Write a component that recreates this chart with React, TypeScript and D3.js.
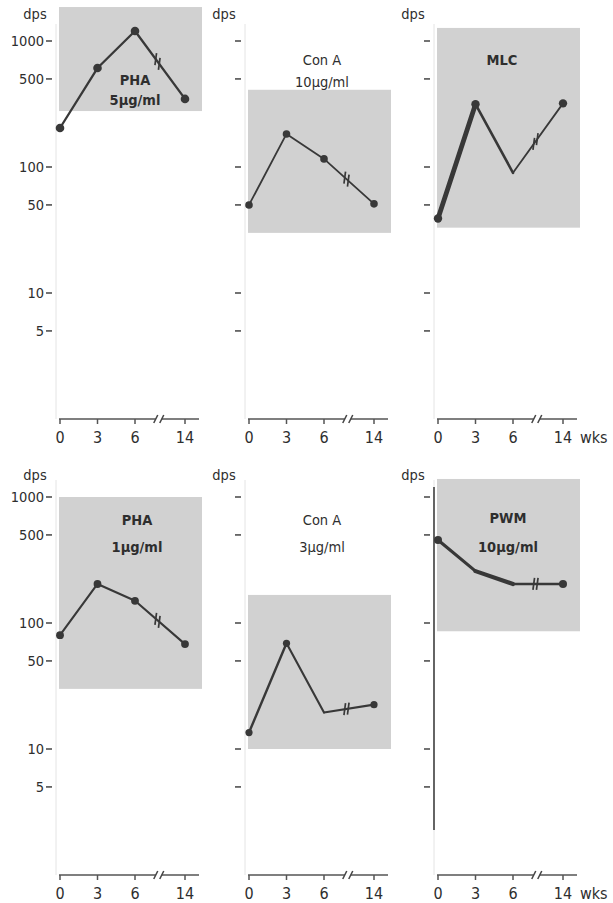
import React from "react";
import * as d3 from "d3";

// ---- data ----
const weeks = [0, 3, 6, 14];
const xTickLabels = ["0", "3", "6", "14"];
const yTickValues = [1000, 500, 100, 50, 10, 5];
const yTickLabels = ["1000", "500", "100", "50", "10", "5"];
const panelTitles = ["PHA", "Con A", "MLC", "PHA", "Con A", "PWM"];
const panelDoses = ["5μg/ml", "10μg/ml", "", "1μg/ml", "3μg/ml", "10μg/ml"];
const phaHigh = [204, 610, 1200, 347];
const conAHigh = [50, 183, 116, 51];
const mlc = [39, 315, 90, 320];
const phaLow = [80, 204, 150, 68];
const conALow = [13.5, 69, 19.5, 22.5];
const pwm = [456, 258, 204, 204];
const shadeTop = [1860, 410, 1270, 1000, 167, 1390];
const shadeBottom = [278, 30, 33, 30, 10, 86];
const seriesList = [phaHigh, conAHigh, mlc, phaLow, conALow, pwm];
const breakWeek = 9.8;

// ---- layout / style ----
const W = 613;
const H = 903;
const colX0 = [60, 249, 438];
const rowAxisY = [419, 875];
const DECADE = 126;
const dpsY = [19, 480];
const FONT = "'DejaVu Sans Condensed', 'DejaVu Sans', sans-serif";
const INK = "#2e2e2e";
const SHADE = "#d1d1d1";

const segWidths = [
  [2.3, 2.3, 2.3],
  [1.8, 1.8, 1.8],
  [4.8, 2.6, 1.8],
  [2.1, 2.1, 2.1],
  [2.4, 2.1, 2.1],
  [3.2, 4.2, 2.6],
];
const dotRadius = [4.3, 3.8, 4.2, 3.9, 3.6, 4];
const dotShown = [
  [true, true, true, true],
  [true, true, true, true],
  [true, true, false, true],
  [true, true, true, true],
  [true, true, false, true],
  [true, false, false, true],
];
// title layout: [dx center rel x0, baseline line 1, baseline line 2]
const titleLayout = [
  [75, 85, 105],
  [73, 65, 87],
  [64, 65, 0],
  [77, 525, 552],
  [73, 525, 552],
  [70, 523, 552],
];
const titleBold = [true, false, true, true, false, true];
const doseBold = [true, false, false, true, false, true];
const axisDark = [false, false, false, false, false, true];

function Panel({ p }: { p: number }) {
  const row = Math.floor(p / 3);
  const col = p % 3;
  const x0 = colX0[col];
  const axisY = rowAxisY[row];
  const y = d3.scaleLog().domain([1, 1000]).range([axisY, axisY - 3 * DECADE]);
  const x = d3.scaleLinear().domain([0, 6, 14]).range([x0, x0 + 75, x0 + 125]);
  const axisX = x0 - 4;
  const vals = seriesList[p];
  const pts = weeks.map((w, i) => [x(w), y(vals[i])] as [number, number]);
  const bx = x(breakWeek);
  const xEnd = x0 + 139;

  const [xa, ya] = pts[2];
  const [xb, yb] = pts[3];
  const yAt = (xx: number) => ya + ((xx - xa) / (xb - xa)) * (yb - ya);
  const lineBreaks = [bx - 3, bx + 0.5];

  return (
    <g>
      <rect
        x={x0 - 1}
        y={y(shadeTop[p])}
        width={143}
        height={y(shadeBottom[p]) - y(shadeTop[p])}
        fill={SHADE}
      />
      {/* y axis */}
      <line x1={axisX} x2={axisX} y1={axisY - 395} y2={axisY} stroke="#e4e4e4" strokeWidth={1} />
      {axisDark[p] && (
        <line x1={axisX} x2={axisX} y1={axisY - 388} y2={axisY - 45} stroke="#555" strokeWidth={1.8} />
      )}
      {yTickValues.map((v, i) => (
        <g key={i}>
          <line x1={axisX - 10} x2={axisX - 4} y1={y(v)} y2={y(v)} stroke="#444" strokeWidth={1.5} />
          {col === 0 && (
            <text x={axisX - 12} y={y(v) + 5} textAnchor="end" fontSize={14.5} fill={INK} fontFamily={FONT}>
              {yTickLabels[i]}
            </text>
          )}
        </g>
      ))}
      <text x={x0 - 25} y={dpsY[row]} textAnchor="middle" fontSize={14.5} fill={INK} fontFamily={FONT}>
        dps
      </text>
      {/* x axis */}
      <line x1={x0 - 1} x2={bx - 3} y1={axisY} y2={axisY} stroke="#555" strokeWidth={1.5} />
      <line x1={bx + 3} x2={xEnd} y1={axisY} y2={axisY} stroke="#555" strokeWidth={1.5} />
      <line x1={bx - 5} x2={bx - 1} y1={axisY + 4} y2={axisY - 4} stroke="#444" strokeWidth={1.5} />
      <line x1={bx + 1} x2={bx + 5} y1={axisY + 4} y2={axisY - 4} stroke="#444" strokeWidth={1.5} />
      {weeks.map((w, i) => (
        <g key={i}>
          <line x1={x(w)} x2={x(w)} y1={axisY} y2={axisY + 5} stroke="#555" strokeWidth={1.5} />
          <text x={x(w)} y={axisY + 24} textAnchor="middle" fontSize={16} fill={INK} fontFamily={FONT}>
            {xTickLabels[i]}
          </text>
        </g>
      ))}
      {col === 2 && (
        <text x={x0 + 142} y={axisY + 24} textAnchor="start" fontSize={16} fill={INK} fontFamily={FONT}>
          wks
        </text>
      )}
      {/* titles */}
      <text x={x0 + titleLayout[p][0]} y={titleLayout[p][1]} textAnchor="middle" fontSize={14.5} fontWeight={titleBold[p] ? "bold" : "normal"} fill={INK} fontFamily={FONT}>
        {panelTitles[p]}
      </text>
      {panelDoses[p] && (
        <text x={x0 + titleLayout[p][0]} y={titleLayout[p][2]} textAnchor="middle" fontSize={14.5} fontWeight={doseBold[p] ? "bold" : "normal"} fill={INK} fontFamily={FONT}>
          {panelDoses[p]}
        </text>
      )}
      {/* data */}
      {pts.slice(0, 3).map((pt, i) => (
        <line
          key={i}
          x1={pt[0]}
          y1={pt[1]}
          x2={pts[i + 1][0]}
          y2={pts[i + 1][1]}
          stroke="#383838"
          strokeWidth={segWidths[p][i]}
          strokeLinecap="round"
        />
      ))}
      {lineBreaks.map((lx, i) => (
        <line
          key={i}
          x1={lx + 0.8}
          x2={lx - 0.8}
          y1={yAt(lx) - 6}
          y2={yAt(lx) + 6}
          stroke="#383838"
          strokeWidth={1.7}
        />
      ))}
      {pts.map((pt, i) =>
        dotShown[p][i] ? <circle key={i} cx={pt[0]} cy={pt[1]} r={dotRadius[p]} fill="#383838" /> : null
      )}
    </g>
  );
}

export default function App() {
  return (
    <svg width={W} height={H} style={{ position: "absolute", left: 0, top: 0, background: "#fff" }}>
      <rect width={W} height={H} fill="#fff" />
      {[0, 1, 2, 3, 4, 5].map((p) => (
        <Panel key={p} p={p} />
      ))}
    </svg>
  );
}
